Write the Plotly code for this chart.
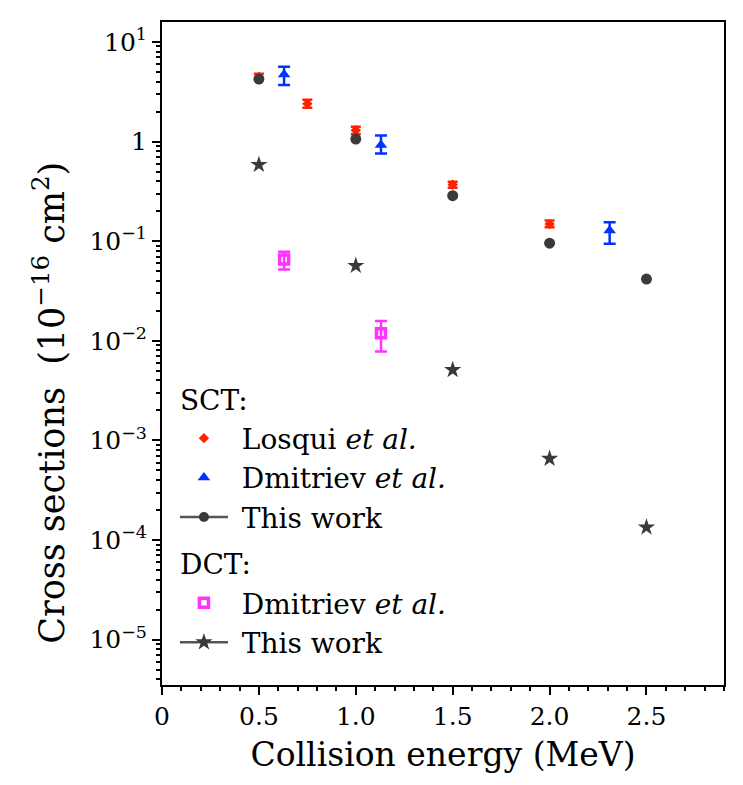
import plotly.graph_objects as go

# ---- data ----
los_x = [0.5, 0.75, 1.0, 1.5, 2.0]
los_y = [4.45, 2.40, 1.30, 0.369, 0.149]
los_lo = [4.15, 2.19, 1.19, 0.344, 0.138]
los_hi = [4.80, 2.63, 1.41, 0.394, 0.161]

dm_sct_x = [0.63, 1.13, 2.31]
dm_sct_y = [4.71, 0.926, 0.128]
dm_sct_lo = [3.69, 0.76, 0.094]
dm_sct_hi = [5.62, 1.15, 0.155]

tw_sct_x = [0.5, 1.0, 1.5, 2.0, 2.5]
tw_sct_y = [4.24, 1.06, 0.286, 0.0955, 0.0417]

dm_dct_x = [0.63, 1.13]
dm_dct_y = [0.0656, 0.0119]
dm_dct_lo = [0.0521, 0.00782]
dm_dct_hi = [0.0782, 0.0158]

tw_dct_x = [0.5, 1.0, 1.5, 2.0, 2.5]
tw_dct_y = [0.585, 0.0567, 0.0051, 6.56e-4, 1.34e-4]

x_tickvals = [0, 0.5, 1.0, 1.5, 2.0, 2.5]
x_ticktext = ["0", "0.5", "1.0", "1.5", "2.0", "2.5"]
y_tickvals = [10, 1, 0.1, 0.01, 0.001, 0.0001, 0.00001]
y_ticktext = ["10<sup>1</sup>", "1", "10<sup>−1</sup>", "10<sup>−2</sup>",
              "10<sup>−3</sup>", "10<sup>−4</sup>", "10<sup>−5</sup>"]

FONT = "DejaVu Serif"
RED = "#ff2200"
BLUE = "#0033ff"
MAG = "#ff33ff"
GRAY = "#3a3a3a"
SP = "\u00a0"


def err(y, lo, hi):
    return dict(type="data", symmetric=False,
                array=[h - v for v, h in zip(y, hi)],
                arrayminus=[v - l for v, l in zip(y, lo)])


fig = go.Figure()

# SCT group
e = err(los_y, los_lo, los_hi)
e.update(color=RED, thickness=2.5, width=5)
fig.add_trace(go.Scatter(x=los_x, y=los_y, mode="markers", name=SP + "Losqui <i>et al.</i>",
                         legendgroup="SCT", legendgrouptitle_text="SCT:",
                         marker=dict(symbol="diamond", size=8, color=RED),
                         error_y=e))
e = err(dm_sct_y, dm_sct_lo, dm_sct_hi)
e.update(color=BLUE, thickness=2.5, width=6)
fig.add_trace(go.Scatter(x=dm_sct_x, y=dm_sct_y, mode="markers", name=SP + "Dmitriev <i>et al.</i>",
                         legendgroup="SCT",
                         marker=dict(symbol="triangle-up", size=11, color=BLUE),
                         error_y=e))
fig.add_trace(go.Scatter(x=tw_sct_x, y=tw_sct_y, mode="markers", showlegend=False,
                         legendgroup="SCT",
                         marker=dict(symbol="circle", size=11, color=GRAY)))
fig.add_trace(go.Scatter(x=[None], y=[None], mode="lines+markers", name=SP + "This work",
                         legendgroup="SCT",
                         line=dict(color="#555555", width=2.5),
                         marker=dict(symbol="circle", size=10, color=GRAY)))

# DCT group
e = err(dm_dct_y, dm_dct_lo, dm_dct_hi)
e.update(color=MAG, thickness=2.5, width=6)
fig.add_trace(go.Scatter(x=dm_dct_x, y=dm_dct_y, mode="markers", name=SP + "Dmitriev <i>et al.</i>",
                         legendgroup="DCT", legendgrouptitle_text="DCT:",
                         marker=dict(symbol="square-open", size=9, color=MAG,
                                     line=dict(width=3.5, color=MAG)),
                         error_y=e))
fig.add_trace(go.Scatter(x=tw_dct_x, y=tw_dct_y, mode="markers", showlegend=False,
                         legendgroup="DCT",
                         marker=dict(symbol="star", size=13, color=GRAY)))
fig.add_trace(go.Scatter(x=[None], y=[None], mode="lines+markers", name=SP + "This work",
                         legendgroup="DCT",
                         line=dict(color="#555555", width=2.5),
                         marker=dict(symbol="star", size=13, color=GRAY)))

minor_y = [k * 10 ** n for n in range(-6, 2) for k in range(2, 10)]

fig.update_layout(
    width=735, height=777,
    margin=dict(l=154, r=18.5, t=11.5, b=100),
    paper_bgcolor="white", plot_bgcolor="white",
    font=dict(family=FONT, size=28, color="black"),
    showlegend=True,
    legend=dict(x=0.023, y=0.469, xanchor="left", yanchor="top",
                bgcolor="rgba(0,0,0,0)", traceorder="grouped",
                tracegroupgap=7, itemwidth=48,
                font=dict(family=FONT, size=28, color="black"),
                grouptitlefont=dict(family=FONT, size=28, color="black")),
    xaxis=dict(range=[0, 2.9], tickmode="array", tickvals=x_tickvals, ticktext=x_ticktext,
               ticks="outside", ticklen=8, tickwidth=2, tickcolor="black",
               showline=True, linewidth=2, linecolor="black", mirror=True,
               showgrid=False, zeroline=False,
               tickfont=dict(family=FONT, size=25),
               minor=dict(dtick=0.1, tick0=0, ticks="outside", ticklen=4,
                          tickwidth=1.5, tickcolor="black", showgrid=False),
               title=dict(text="Collision energy (MeV)", font=dict(family=FONT, size=33),
                          standoff=13)),
    yaxis=dict(type="log", range=[-5.455, 1.2], tickmode="array",
               tickvals=y_tickvals, ticktext=y_ticktext,
               ticks="outside", ticklen=8, tickwidth=2, tickcolor="black",
               showline=True, linewidth=2, linecolor="black", mirror=True,
               showgrid=False, zeroline=False,
               tickfont=dict(family=FONT, size=25),
               minor=dict(tickmode="array", tickvals=minor_y, ticks="outside", ticklen=4,
                          tickwidth=1.5, tickcolor="black", showgrid=False)),
)

fig.add_annotation(text="Cross sections  (10<sup>−16</sup> cm<sup>2</sup>)",
                   xref="paper", yref="paper", x=-0.2, y=0.425,
                   xanchor="center", yanchor="middle", textangle=-90,
                   showarrow=False, font=dict(family=FONT, size=35, color="black"))

fig.write_html("out.html")
